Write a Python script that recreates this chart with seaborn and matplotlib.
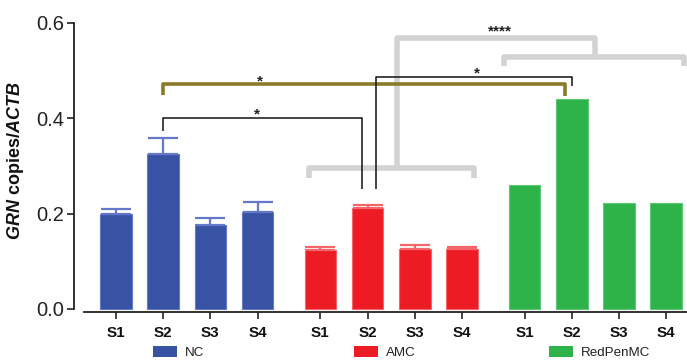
import numpy as np
import pandas as pd
import matplotlib
matplotlib.use("Agg")
import matplotlib.pyplot as plt
import seaborn as sns
from matplotlib.patches import Patch

# ---- data ----
groups = ["NC", "AMC", "RedPenMC"]
samples = ["S1", "S2", "S3", "S4"]
nc_vals = [0.200, 0.325, 0.176, 0.204]
amc_vals = [0.124, 0.212, 0.125, 0.126]
rp_vals = [0.261, 0.440, 0.222, 0.222]
nc_err = [0.010, 0.033, 0.015, 0.020]
amc_err = [0.007, 0.007, 0.009, 0.003]
stars = ["*", "*", "*", "****"]

colors = {"NC": "#3953A4", "AMC": "#ED1C24", "RedPenMC": "#2EB34B"}
edge_colors = {"NC": "#6378C8", "AMC": "#F5666B", "RedPenMC": "#5CC872"}

sns.set_theme(style="ticks")
plt.rcParams["font.family"] = ["Liberation Sans", "DejaVu Sans"]
plt.rcParams["mathtext.fontset"] = "custom"
plt.rcParams["mathtext.it"] = "Liberation Sans:italic:bold"
plt.rcParams["mathtext.rm"] = "Liberation Sans:bold"

group_step = 4.33
vals = {"NC": nc_vals, "AMC": amc_vals, "RedPenMC": rp_vals}
rows = []
for gi, g in enumerate(groups):
    for si, s in enumerate(samples):
        rows.append({"pos": gi * group_step + si, "value": vals[g][si],
                     "group": g, "sample": s})
df = pd.DataFrame(rows)

fig = plt.figure(figsize=(6.87, 3.6), dpi=100)
ax = fig.add_axes([74 / 687, 48 / 360, 613 / 687, 312 / 360])

sns.barplot(data=df, x="pos", y="value", hue="group", hue_order=groups,
            palette=colors, native_scale=True, dodge=False, width=0.67,
            saturation=1, legend=False, ax=ax, linewidth=0.8, zorder=2)
for cont, g in zip(ax.containers, groups):
    for p in cont:
        p.set_edgecolor(edge_colors[g])

# error bars (upper only)
for g, err in [("NC", nc_err), ("AMC", amc_err)]:
    sub = df[df.group == g]
    ax.errorbar(sub["pos"], sub["value"], yerr=[np.zeros(len(err)), err],
                fmt="none", ecolor=edge_colors[g], elinewidth=1.6,
                capsize=10.5, capthick=1.6, zorder=3)

ax.set_xlim(-0.89, 12.1)
ax.set_ylim(-0.0063, 0.6478)
ax.set_yticks([0.0, 0.2, 0.4, 0.6])
ax.set_yticklabels(["0.0", "0.2", "0.4", "0.6"])
ax.set_xticks(df["pos"])
ax.set_xticklabels(df["sample"], fontweight="bold")
ax.tick_params(axis="y", labelsize=14.5, length=5, width=1.2, pad=2,
               color="#222222", labelcolor="#222222")
ax.tick_params(axis="x", labelsize=11, length=5, width=1.2, pad=5,
               color="#222222", labelcolor="#111111")
sns.despine(ax=ax)
ax.spines["left"].set_bounds(0.0, 0.6)
ax.spines["bottom"].set_bounds(-0.68, 12.1)
for sp in ("left", "bottom"):
    ax.spines[sp].set_linewidth(1.3)
    ax.spines[sp].set_color("#222222")
ax.set_xlabel("")
ax.set_ylabel(r"$\it{GRN}$ copies/$\it{ACTB}$", fontsize=13,
              fontweight="bold", color="#111111")
ax.yaxis.set_label_coords(-0.078, 0.484)

# ---- significance brackets ----
pos = {(g, s): gi * group_step + si for gi, g in enumerate(groups)
       for si, s in enumerate(samples)}
nc2, amc2, rp2 = pos[("NC", "S2")], pos[("AMC", "S2")], pos[("RedPenMC", "S2")]

def bracket(x1, x2, y, yl, yr, color, lw, z):
    ax.plot([x1, x1, x2, x2], [yl, y, y, yr], color=color, lw=lw,
            solid_joinstyle="round", solid_capstyle="butt", zorder=z,
            clip_on=False)

gray = "#D3D3D3"
# gray nested bracket
amc_l, amc_r = pos[("AMC", "S1")] - 0.23, pos[("AMC", "S4")] + 0.26
rp_l, rp_r = pos[("RedPenMC", "S1")] - 0.44, pos[("RedPenMC", "S4")] + 0.38
bracket(amc_l, amc_r, 0.295, 0.274, 0.274, gray, 4, 1)
bracket(rp_l, rp_r, 0.528, 0.509, 0.509, gray, 4, 1)
stem_l = amc2 + 0.62
stem_r = (pos[("RedPenMC", "S1")] + pos[("RedPenMC", "S4")]) / 2
bracket(stem_l, stem_r, 0.569, 0.295, 0.528, gray, 4, 1)

# olive bracket NC S2 - RedPenMC S2
bracket(nc2, rp2 - 0.15, 0.471, 0.449, 0.447, "#8A7A2A", 2.6, 4)
# black NC S2 - AMC S2
bracket(nc2, amc2 - 0.11, 0.400, 0.373, 0.252, "#111111", 1.1, 4)
# black AMC S2 - RedPenMC S2
bracket(amc2 + 0.19, rp2, 0.486, 0.252, 0.467, "#111111", 1.1, 4)

star_xy = [(3.05, 0.478), (2.98, 0.407), (7.64, 0.493), (8.14, 0.581)]
for (sx, sy), t in zip(star_xy, stars):
    ax.text(sx, sy, t, ha="center", va="center", fontsize=11,
            fontweight="bold", color="#222222", zorder=5)

# ---- legends, one under each group ----
leg_x = [178.7 / 687, 384.7 / 687, 600 / 687]
for g, lx in zip(groups, leg_x):
    leg = fig.legend(handles=[Patch(facecolor=colors[g], edgecolor="none",
                                    label=g)],
                     loc="center", bbox_to_anchor=(lx, 7.5 / 360),
                     frameon=False, fontsize=9.6, handlelength=1.8,
                     handleheight=0.9, handletextpad=0.6, borderpad=0,
                     borderaxespad=0)
    for t in leg.get_texts():
        t.set_color("#222222")

fig.savefig("out.png", dpi=100)
